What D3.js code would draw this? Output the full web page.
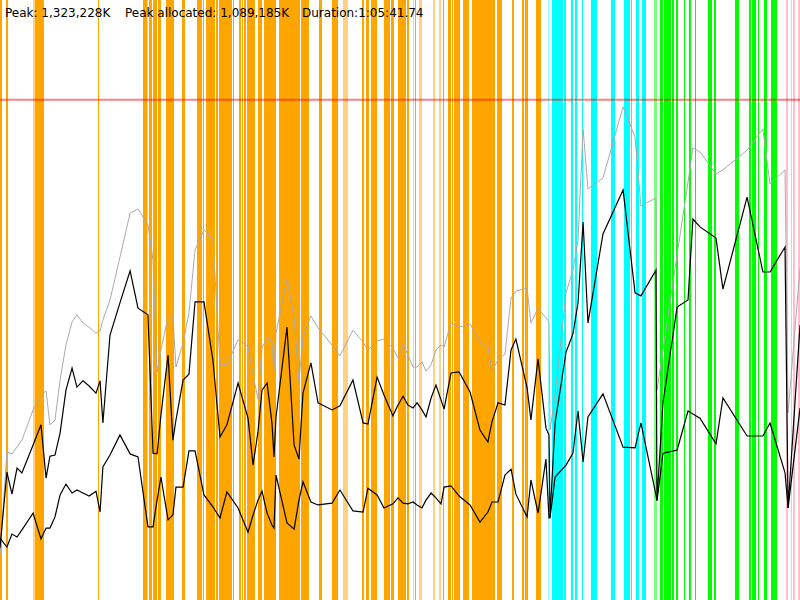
<html>
<head>
<script src="https://d3js.org/d3.v7.min.js"></script>
<style>
  body { margin: 0; background: #fff; }
  text { font-family: "DejaVu Sans", sans-serif; font-size: 12px; }
</style>
</head>
<body>
<svg width="800" height="600"></svg>
<script>
    // time in seconds, memory in units of 1000K
    const duration = 3941.74;
    const heapLimit = 1342.177;

    const times = [0,34,59,84,108,163,202,227,246,271,296,325,355,379,409,439,473,493,507,542,
        591,641,680,729,754,774,793,828,852,867,902,931,961,1005,1049,1084,1118,1173,1222,1247,
        1271,1291,1316,1340,1350,1360,1414,1449,1473,1493,1532,1567,1636,1675,1739,1789,1813,1858,1892,1936,
        1961,1986,2010,2035,2055,2079,2099,2124,2148,2173,2188,2222,2262,2316,2365,2404,2424,2454,2488,2518,
        2542,2597,2616,2651,2690,2705,2710,2735,2789,2823,2848,2873,2897,2971,3070,3129,3158,3232,3237,3267,
        3336,3390,3414,3449,3528,3562,3681,3759,3794,3868,3883,3942];

    const heapSize = [120,397,392,411,429,510,550,561,470,483,590,684,746,765,743,732,716,722,751,805,
        920,1038,1049,1006,912,612,671,759,759,625,690,770,939,993,969,633,631,698,681,604,
        539,676,706,692,617,716,861,759,585,706,762,730,684,655,724,692,671,695,700,676,
        649,687,657,625,625,639,614,631,671,684,679,743,732,741,692,679,614,644,660,810,
        829,837,743,783,757,746,456,550,824,885,966,1264,1103,1132,1323,1242,1057,1079,563,671,
        926,1121,1213,1202,1143,1154,1207,1264,1116,1154,502,891];

    const usedBefore = [140,343,284,354,341,416,470,327,386,389,448,563,622,571,588,574,555,588,475,711,
        797,883,783,765,394,392,496,657,429,483,590,606,800,800,644,437,470,582,488,362,
        451,563,582,475,384,491,732,416,378,555,636,529,510,521,590,475,472,598,550,494,
        523,547,523,515,529,510,491,542,577,537,512,609,612,558,456,424,478,529,523,671,
        700,569,483,647,461,443,223,475,665,714,797,1014,743,982,1100,824,816,885,268,531,
        786,805,1022,1001,971,834,1081,880,880,947,247,738];

    const usedAfter = [166,142,177,169,188,233,164,193,193,223,282,311,287,295,287,279,292,236,357,389,
        443,392,384,196,196,268,330,215,228,303,303,400,400,282,250,220,290,247,182,228,
        268,292,233,201,193,335,207,190,268,317,263,255,260,295,239,236,300,282,247,258,
        274,260,258,263,255,247,268,287,274,258,303,306,279,255,209,236,263,263,335,351,
        284,223,322,233,378,220,220,330,362,394,507,370,491,553,410,408,475,282,266,394,
        402,507,499,488,419,542,440,440,475,341,247,515];

    // [start, length] in seconds
    const youngPauses = [[0,10],[30,8],[172,44],[483,7],[705,20],[734,15],[754,20],[778,15],[818,39],[897,15],
        [971,25],[1000,7],[1015,44],[1064,10],[1079,64],[1146,5],[1178,10],[1192,7],[1202,10],[1217,39],
        [1271,20],[1301,59],[1375,103],[1483,39],[1572,15],[1636,30],[1784,10],[1803,15],[1828,30],[1892,15],
        [1909,12],[1926,15],[1961,39],[2005,10],[2045,5],[2183,5],[2207,15],[2227,5],[2237,30],[2281,30],
        [2326,113],[2449,25],[2523,10],[2572,10],[2587,15],[2641,25]];
    const youngShort = [[163,10],[724,5],[1690,25],[2035,5],[2064,15],[2133,10],[2163,10]];
    const mixedPauses = [[2720,54],[2779,10],[2813,10],[2833,10],[2868,5],[2912,30],[3010,20],[3074,30],
        [3109,5],[3134,15],[3163,20]];
    const mixedShort = [[2700,7]];
    const markPauses = [[3252,15],[3272,34],[3311,10],[3331,10],[3370,7],[3395,10],[3424,7],[3488,20],
        [3518,10],[3621,20],[3690,10],[3705,20],[3735,7],[3764,15],[3799,30]];
    const markShort = [[3222,15]];
    const fullPauses = [[3873,10],[3897,5],[3907,10],[3932,10]];

    const headerLabels = ["Peak: 1,323,228K", "Peak allocated: 1,089,185K", "Duration:1:05:41.74"];

    const W = 800, H = 600;
    const svg = d3.select("svg");

    const x = d3.scaleLinear().domain([0, duration]).range([0, W]);
    const y = d3.scaleLinear().domain([0, 1609.8]).range([H, 0]);

    const bands = [
        {data: youngPauses, color: "#ffa500", op: 1},
        {data: youngShort, color: "#ffa500", op: 0.5},
        {data: mixedPauses, color: "#00ffff", op: 1},
        {data: mixedShort, color: "#00ffff", op: 0.5},
        {data: markPauses, color: "#00ff00", op: 1},
        {data: markShort, color: "#00ff00", op: 0.5},
        {data: fullPauses, color: "#ffc0cb", op: 1}
    ];

    bands.forEach(b => {
        svg.append("g")
            .selectAll("rect")
            .data(b.data)
            .enter()
            .append("rect")
            .attr("x", d => x(d[0]))
            .attr("width", d => Math.max(1, x(d[0] + d[1]) - x(d[0])))
            .attr("y", 0)
            .attr("height", H)
            .attr("fill", b.color)
            .attr("opacity", b.op)
            .attr("shape-rendering", "crispEdges");
    });

    const line = vals => d3.line()
        .x((d, i) => x(times[i]))
        .y(d => y(d))(vals);

    svg.append("path")
        .attr("d", line(heapSize))
        .attr("fill", "none")
        .attr("stroke", "#aaaaaa")
        .attr("stroke-width", 1);

    [usedBefore, usedAfter].forEach(s => {
        svg.append("path")
            .attr("d", line(s))
            .attr("fill", "none")
            .attr("stroke", "black")
            .attr("stroke-width", 1.2);
    });

    svg.append("line")
        .attr("x1", 0)
        .attr("x2", W)
        .attr("y1", y(heapLimit))
        .attr("y2", y(heapLimit))
        .attr("stroke", "red")
        .attr("stroke-opacity", 0.5)
        .attr("stroke-width", 2);

    svg.append("g")
        .selectAll("text")
        .data(headerLabels)
        .enter()
        .append("text")
        .attr("x", (d, i) => [5, 125, 302][i])
        .attr("y", 17)
        .attr("fill", "black")
        .text(d => d);
</script>
</body>
</html>
